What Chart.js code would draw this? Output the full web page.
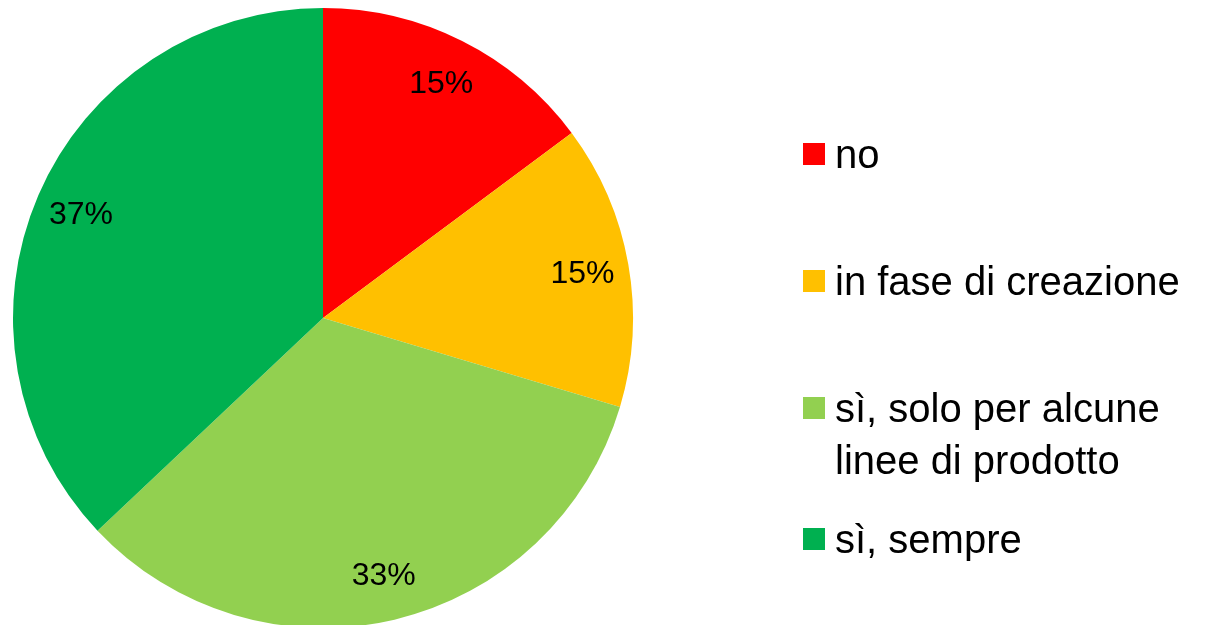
<!DOCTYPE html>
<html>
<head>
<meta charset="utf-8">
<script src="https://cdn.jsdelivr.net/npm/chart.js@4"></script>
<style>
	body { margin: 0; overflow: hidden; background: #fff; }
	#box { width: 1219px; height: 636px; position: relative; }
</style>
</head>
<body>
<div id="box"><canvas id="grafico_torta"></canvas></div>
<script>
// dati
var categorie = ["no", "in fase di creazione", "sì, solo per alcune|linee di prodotto", "sì, sempre"];
var valori = [14.8, 14.8, 33.3, 37.0];
var colori = ["#FF0000", "#FFC000", "#92D050", "#00B050"];

var font_testo = "'Liberation Sans', Arial, sans-serif";

// etichette percentuali dentro le fette
var plugin_percentuali = {
	id: "percentuali",
	afterDatasetsDraw: function (chart) {
		var ctx = chart.ctx;
		var meta = chart.getDatasetMeta(0);
		var totale = valori.reduce(function (a, b) { return a + b; }, 0);
		ctx.save();
		ctx.fillStyle = "#000";
		ctx.font = "32px " + font_testo;
		ctx.textAlign = "center";
		ctx.textBaseline = "middle";
		meta.data.forEach(function (arco, i) {
			var p = arco.getProps(["x", "y", "startAngle", "endAngle", "outerRadius"], true);
			var a = (p.startAngle + p.endAngle) / 2;
			var r = p.outerRadius * 0.85;
			var testo = Math.round(valori[i] / totale * 100) + "%";
			ctx.fillText(testo, p.x + Math.cos(a) * r, p.y + Math.sin(a) * r + 2);
		});
		ctx.restore();
	}
};

// legenda a destra
var plugin_legenda = {
	id: "legenda",
	afterDraw: function (chart) {
		var ctx = chart.ctx;
		var righe_y = [168, 295, 422, 553];
		ctx.save();
		ctx.font = "40px " + font_testo;
		ctx.textBaseline = "alphabetic";
		ctx.textAlign = "left";
		categorie.forEach(function (cat, i) {
			var y = righe_y[i];
			ctx.fillStyle = colori[i];
			ctx.fillRect(803, y - 25, 22, 22);
			ctx.fillStyle = "#000";
			cat.split("|").forEach(function (riga, j) {
				ctx.fillText(riga, 835, y + j * 52);
			});
		});
		ctx.restore();
	}
};

new Chart(document.getElementById("grafico_torta"), {
	type: "pie",
	data: {
		labels: categorie.map(function (c) { return c.replace("|", " "); }),
		datasets: [
			{
				data: valori,
				backgroundColor: colori,
				borderWidth: 0,
			},
		],
	},
	options: {
		responsive: true,
		maintainAspectRatio: false,
		animation: false,
		layout: {
			padding: { left: 13, top: 8, bottom: 8, right: 586 },
		},
		plugins: {
			legend: { display: false },
			tooltip: { enabled: false },
		},
	},
	plugins: [plugin_percentuali, plugin_legenda],
});
</script>
</body>
</html>
